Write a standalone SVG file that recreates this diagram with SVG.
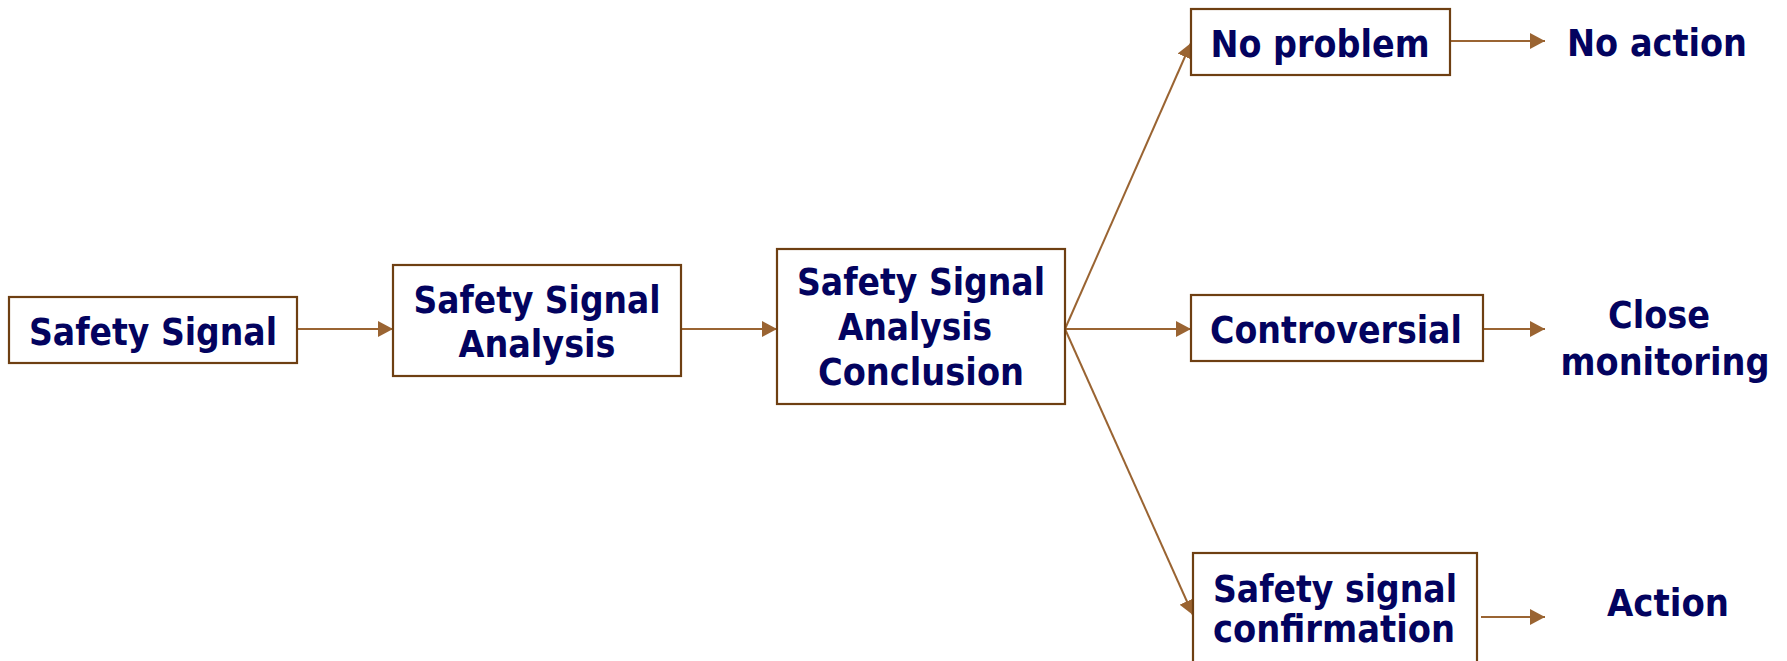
<svg xmlns="http://www.w3.org/2000/svg" width="1787" height="661" viewBox="0 0 1787 661">
  <style>
    .box { fill: #ffffff; stroke: #6e3f12; stroke-width: 2.2; }
    .lbl { font-family: "DejaVu Sans", Verdana, sans-serif; font-weight: bold; font-size: 37px; fill: #03035f; text-anchor: middle; }
    .edge { stroke: #9a6432; stroke-width: 2; fill: none; marker-end: url(#arrow); }
  </style>
  <defs>
    <marker id="arrow" markerUnits="userSpaceOnUse" markerWidth="16" markerHeight="16" refX="15" refY="8" orient="auto">
      <path d="M0,0 L15,8 L0,16 z" fill="#9a6432"/>
    </marker>
  </defs>
  <rect width="1787" height="661" fill="#ffffff"/>

  <g id="connectors">
    <line class="edge" x1="297" y1="329" x2="393" y2="329"/>
    <line class="edge" x1="681" y1="329" x2="777" y2="329"/>
    <line class="edge" x1="1065" y1="329" x2="1191" y2="43"/>
    <line class="edge" x1="1065" y1="329" x2="1191" y2="329"/>
    <line class="edge" x1="1065" y1="329" x2="1193" y2="615"/>
    <line class="edge" x1="1450" y1="41" x2="1545" y2="41"/>
    <line class="edge" x1="1483" y1="329" x2="1545" y2="329"/>
    <line class="edge" x1="1481" y1="617" x2="1545" y2="617"/>
  </g>

  <g id="safety-signal">
    <rect class="box" x="9" y="297" width="288" height="66"/>
    <text class="lbl" x="153" y="345" textLength="248" lengthAdjust="spacingAndGlyphs">Safety Signal</text>
  </g>

  <g id="signal-analysis">
    <rect class="box" x="393" y="265" width="288" height="111"/>
    <text class="lbl" x="537" y="313" textLength="247" lengthAdjust="spacingAndGlyphs">Safety Signal</text>
    <text class="lbl" x="537" y="357" textLength="157" lengthAdjust="spacingAndGlyphs">Analysis</text>
  </g>

  <g id="analysis-conclusion">
    <rect class="box" x="777" y="249" width="288" height="155"/>
    <text class="lbl" x="921" y="295" textLength="248" lengthAdjust="spacingAndGlyphs">Safety Signal</text>
    <text class="lbl" x="915" y="340" textLength="154" lengthAdjust="spacingAndGlyphs">Analysis</text>
    <text class="lbl" x="921" y="385" textLength="206" lengthAdjust="spacingAndGlyphs">Conclusion</text>
  </g>

  <g id="no-problem">
    <rect class="box" x="1191" y="9" width="259" height="66"/>
    <text class="lbl" x="1320" y="57" textLength="219" lengthAdjust="spacingAndGlyphs">No problem</text>
  </g>

  <g id="controversial">
    <rect class="box" x="1191" y="295" width="292" height="66"/>
    <text class="lbl" x="1336" y="343" textLength="252" lengthAdjust="spacingAndGlyphs">Controversial</text>
  </g>

  <g id="signal-confirmation">
    <rect class="box" x="1193" y="553" width="284" height="120"/>
    <text class="lbl" x="1335" y="602" textLength="244" lengthAdjust="spacingAndGlyphs">Safety signal</text>
    <text class="lbl" x="1334" y="642" textLength="242" lengthAdjust="spacingAndGlyphs">confirmation</text>
  </g>

  <g id="no-action">
    <text class="lbl" x="1657" y="56" textLength="180" lengthAdjust="spacingAndGlyphs">No action</text>
  </g>

  <g id="close-monitoring">
    <text class="lbl" x="1659" y="328" textLength="102" lengthAdjust="spacingAndGlyphs">Close</text>
    <text class="lbl" x="1665" y="375" textLength="209" lengthAdjust="spacingAndGlyphs">monitoring</text>
  </g>

  <g id="action">
    <text class="lbl" x="1668" y="616" textLength="122" lengthAdjust="spacingAndGlyphs">Action</text>
  </g>
</svg>
